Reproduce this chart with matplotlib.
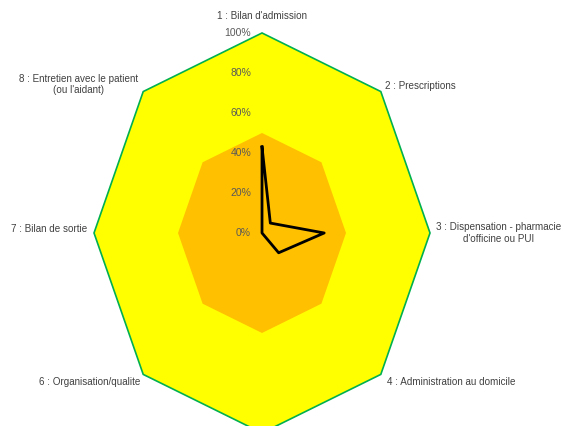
import numpy as np
import matplotlib

matplotlib.use("Agg")
import matplotlib.pyplot as plt
from matplotlib.transforms import offset_copy

plt.rcParams["font.family"] = ["Liberation Sans Narrow", "Liberation Sans", "DejaVu Sans"]

# axis labels (axis 5 lies outside the visible frame, its label is not shown)
categories = [
    "1 : Bilan d'admission",
    "2 : Prescriptions",
    "3 : Dispensation - pharmacie\nd'officine ou PUI",
    "4 : Administration au domicile",
    "",
    "6 : Organisation/qualite",
    "7 : Bilan de sortie",
    "8 : Entretien avec le patient\n(ou l'aidant)",
]
outer_zone = [100, 100, 100, 100, 100, 100, 100, 100]
inner_zone = [50, 50, 50, 50, 50, 50, 50, 50]
scores = [43, 7, 37, 14, 0, 0, 0, 0]
r_ticks = [0, 20, 40, 60, 80, 100]
r_tick_labels = ["0%", "20%", "40%", "60%", "80%", "100%"]

n = len(categories)
theta = np.linspace(0, 2 * np.pi, n, endpoint=False)
theta_c = np.append(theta, theta[0])


def closed(v):
    return np.append(v, v[0])


fig = plt.figure(figsize=(5.67, 4.26), dpi=100)
# polar axes stretched to an ellipse like the Excel original
ax = fig.add_axes([0.1658, -0.0164, 0.5926, 0.939], projection="polar")
ax.set_aspect("auto")
ax.set_theta_zero_location("N")
ax.set_theta_direction(-1)
ax.set_ylim(0, 100)
ax.grid(False)
ax.spines["polar"].set_visible(False)
ax.set_xticks([])
ax.set_yticks([])
ax.patch.set_alpha(0)

ax.fill(theta_c, closed(outer_zone), color="#FFFF00", ec="#00B050", lw=1.2, clip_on=False, zorder=1)
ax.fill(theta_c, closed(inner_zone), color="#FFC000", lw=0, clip_on=False, zorder=2)
ax.plot(theta_c, closed(scores), color="black", lw=2, clip_on=False, zorder=4)

# radial tick labels to the left of the first axis
tr = offset_copy(ax.transData, fig=fig, x=-11, y=0, units="dots")
for r, lab in zip(r_ticks, r_tick_labels):
    ax.text(0, r, lab, transform=tr, ha="right", va="center", fontsize=7.5, color="#595959", zorder=5)

# category labels: (dx, dy, ha) per axis, in pixels
label_pos = [
    (0, 17, "center"),
    (4, 6, "left"),
    (6, 0, "left"),
    (6, -8, "left"),
    (0, -14, "center"),
    (-3, -8, "right"),
    (-7, 4, "right"),
    (-5, 7, "right"),
]
for t, lab, (dx, dy, ha) in zip(theta, categories, label_pos):
    tr = offset_copy(ax.transData, fig=fig, x=dx, y=dy, units="dots")
    ax.text(t, 100, lab, transform=tr, ha=ha, va="center", multialignment="center",
            fontsize=7.1, color="#404040", clip_on=False, zorder=5)

fig.savefig("out.png", dpi=100)
